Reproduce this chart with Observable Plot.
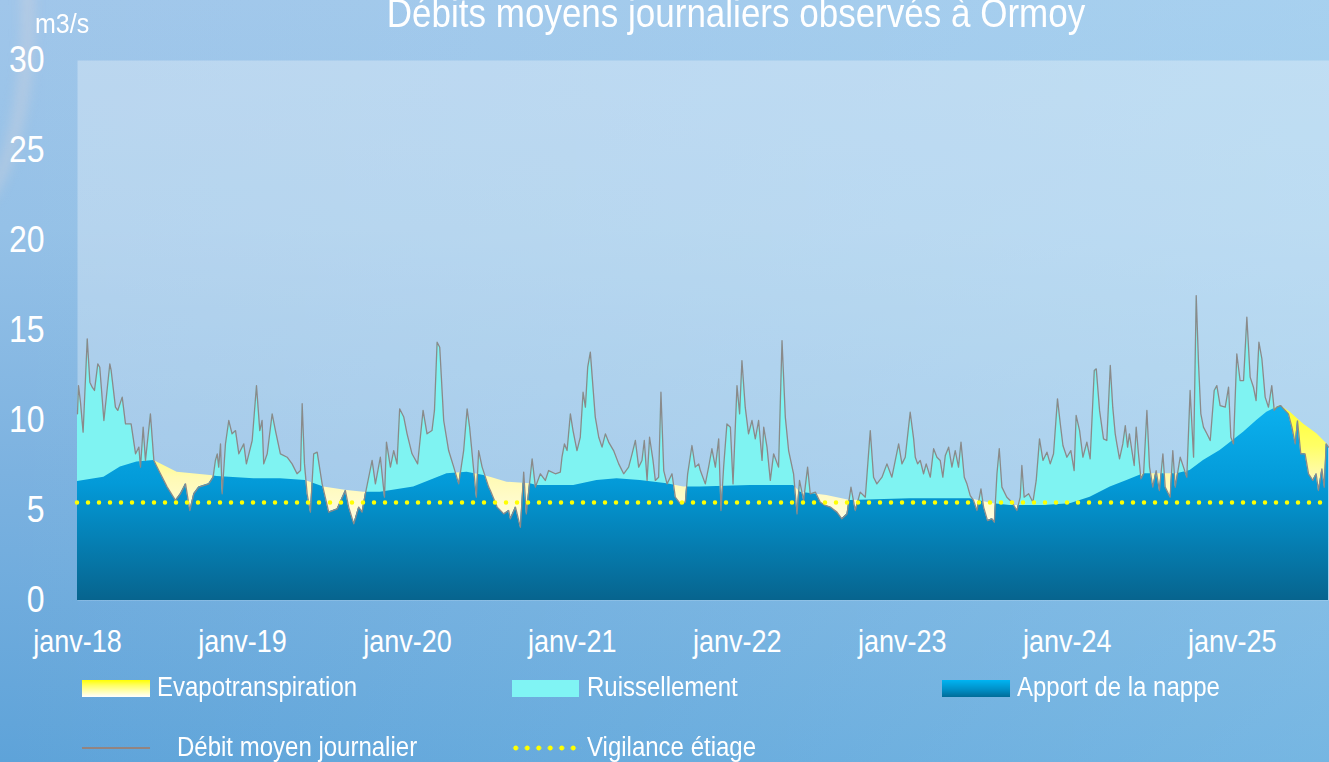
<!DOCTYPE html>
<html>
<head>
<meta charset="utf-8">
<script src="https://cdn.jsdelivr.net/npm/d3@7"></script>
<script src="https://cdn.jsdelivr.net/npm/@observablehq/plot@0.6"></script>
<style>
html,body{margin:0;padding:0;}
body{width:1329px;height:762px;overflow:hidden;position:relative;font-family:"Liberation Sans",Arial,sans-serif;
 background:
  linear-gradient(90deg, rgba(255,255,255,0) 0%, rgba(190,240,255,0.25) 100%),
  linear-gradient(180deg,#a0c6ea 0%,#95c1e7 30%,#7cb2e0 62%,#5ea3d9 100%);}
#chart{position:absolute;left:0;top:0;}
.t{position:absolute;color:#fff;line-height:1;white-space:nowrap;transform-origin:0 0;}
.sw{position:absolute;}
.edge{position:absolute;left:-122px;top:-190px;width:132px;height:390px;border-radius:50%;border:12px solid rgba(205,210,222,0.5);filter:blur(6px);}
</style>
</head>
<body>
<div class="edge"></div>
<div id="chart"></div>
<div class="t" style="left:0;width:1472px;text-align:center;top:-8px;font-size:35px;transform:scaleY(1.17);">Débits moyens journaliers observés à Ormoy</div>
<div class="t" style="left:35px;top:10px;font-size:25px;transform:scaleY(1.1);">m3/s</div>

<div class="sw" style="left:82px;top:680px;width:68px;height:17px;background:linear-gradient(180deg,#ffff00 0%,#ffff60 30%,#ffffff 100%);"></div>
<div class="t" style="left:157px;top:673px;font-size:24px;transform:scaleY(1.17);">Evapotranspiration</div>
<div class="sw" style="left:512px;top:680px;width:67px;height:17px;background:#80f4f4;"></div>
<div class="t" style="left:587px;top:673px;font-size:24px;transform:scaleY(1.17);">Ruissellement</div>
<div class="sw" style="left:942px;top:680px;width:68px;height:17px;background:linear-gradient(180deg,#00b4f2 0%,#0090c8 55%,#006c98 100%);"></div>
<div class="t" style="left:1017px;top:673px;font-size:24px;transform:scaleY(1.17);">Apport de la nappe</div>

<div class="sw" style="left:82px;top:747px;width:68px;height:1.5px;background:#938480;"></div>
<div class="t" style="left:177px;top:733px;font-size:24px;transform:scaleY(1.17);">Débit moyen journalier</div>
<div class="sw" style="left:510px;top:745px;width:72px;height:6px;background-image:radial-gradient(circle,#ffff00 2.2px,rgba(255,255,0,0) 2.8px);background-size:11.5px 6px;"></div>
<div class="t" style="left:587px;top:733px;font-size:24px;transform:scaleY(1.17);">Vigilance étiage</div>

<script>
// Débit moyen journalier (time in decimal years, value in m3/s)
const debitT = [
2018.000,2018.006,2018.018,2018.034,2018.059,2018.075,2018.089,2018.103,2018.123,2018.135,
2018.160,2018.196,2018.204,2018.230,2018.244,2018.271,2018.291,2018.325,2018.352,2018.372,
2018.382,2018.398,2018.412,2018.442,2018.463,2018.493,2018.544,2018.594,2018.624,2018.655,
2018.681,2018.705,2018.735,2018.796,2018.822,2018.836,2018.847,2018.856,2018.867,2018.877,
2018.897,2018.917,2018.937,2018.958,2018.978,2019.008,2019.024,2019.059,2019.085,2019.105,
2019.119,2019.129,2019.150,2019.180,2019.200,2019.230,
2019.271,2019.301,2019.331,2019.352,2019.362,2019.376,2019.392,2019.412,2019.432,2019.453,
2019.483,2019.523,2019.574,2019.624,2019.644,2019.675,2019.705,2019.725,2019.745,2019.786,
2019.806,2019.836,2019.861,2019.873,2019.897,2019.917,2019.937,2019.953,2019.978,2019.998,
2020.028,2020.062,2020.095,2020.119,2020.149,2020.164,2020.180,2020.196,2020.220,2020.250,
2020.281,2020.311,2020.341,2020.362,2020.377,2020.402,2020.418,2020.432,2020.453,2020.493,
2020.503,2020.544,2020.584,2020.614,2020.624,2020.655,2020.685,2020.705,2020.721,2020.756,
2020.776,2020.806,2020.836,2020.856,2020.897,2020.927,2020.937,2020.952,2020.968,2020.988,
2021.004,2021.028,2021.048,2021.065,2021.079,2021.093,2021.109,2021.125,2021.139,2021.160,
2021.180,2021.200,2021.220,2021.250,2021.281,2021.311,2021.341,2021.362,2021.382,2021.402,
2021.422,2021.436,2021.453,2021.468,2021.489,2021.503,2021.523,2021.537,2021.554,2021.574,
2021.604,2021.624,2021.655,2021.685,2021.699,2021.725,2021.745,2021.766,
2021.776,2021.806,2021.826,2021.846,2021.867,2021.887,2021.901,2021.917,2021.937,2021.958,
2021.974,2021.998,2022.014,2022.028,2022.048,2022.068,2022.089,2022.109,2022.129,2022.150,
2022.160,2022.180,2022.200,2022.220,2022.250,2022.271,2022.291,2022.311,2022.341,2022.362,
2022.377,2022.402,2022.426,2022.442,2022.473,2022.503,2022.533,2022.564,2022.604,2022.634,
2022.665,2022.689,2022.715,2022.745,2022.776,2022.806,2022.826,2022.846,2022.877,2022.907,
2022.937,2022.978,2022.998,2023.018,
2023.048,2023.069,2023.079,2023.093,2023.109,2023.129,2023.145,2023.170,2023.190,2023.210,
2023.230,2023.246,2023.261,2023.281,2023.301,2023.321,2023.341,2023.356,2023.376,2023.392,
2023.412,2023.432,2023.453,2023.477,2023.493,2023.517,2023.544,2023.558,2023.574,2023.588,
2023.604,2023.634,2023.665,2023.695,2023.715,2023.725,2023.739,2023.766,2023.792,2023.812,
2023.832,2023.853,2023.877,2023.897,2023.917,2023.941,2023.958,2023.974,2023.998,2024.022,
2024.042,2024.054,2024.075,2024.095,2024.119,2024.139,2024.164,2024.176,2024.196,2024.220,
2024.240,
2024.261,2024.276,2024.291,2024.301,2024.317,2024.337,2024.352,2024.366,2024.377,2024.392,
2024.406,2024.418,2024.432,2024.447,2024.463,2024.483,2024.499,2024.519,2024.539,2024.559,
2024.580,2024.594,2024.624,2024.640,2024.655,2024.685,2024.705,2024.725,2024.745,2024.766,
2024.782,2024.796,2024.810,2024.826,2024.847,2024.867,2024.891,2024.907,2024.927,2024.958,
2024.978,2024.992,2025.008,2025.028,2025.048,2025.069,2025.089,2025.109,2025.129,2025.145,
2025.162,2025.180,2025.200,2025.220,2025.240,2025.255,2025.271,2025.295,2025.311,2025.341,
2025.362,2025.382,2025.396,2025.416,2025.442,2025.463,2025.489,2025.509,2025.523,2025.544,
2025.558,2025.570,2025.584
];
const debitV = [
10.37,11.94,11.02,9.35,14.54,12.13,11.85,11.67,13.15,12.96,
10.0,13.15,12.78,10.74,10.56,11.3,9.81,9.81,8.15,8.52,
7.41,9.63,7.78,10.37,7.78,7.22,6.30,5.56,5.93,6.48,
5.0,5.93,6.30,6.48,6.85,7.78,8.15,7.41,8.70,5.93,
8.70,10.0,9.26,9.44,8.15,8.70,7.59,8.89,11.94,9.44,
10.0,7.59,8.15,10.37,9.44,8.15,
7.96,7.59,7.04,7.22,10.93,7.59,5.93,4.91,8.15,8.24,
6.48,4.91,5.09,6.11,5.19,4.26,5.19,4.91,5.93,7.78,
6.48,7.96,5.74,8.80,7.41,8.33,7.59,10.65,10.19,9.26,
8.15,7.59,10.56,9.26,9.44,10.56,14.35,14.07,10.0,8.33,
7.41,6.48,8.33,10.65,9.63,7.22,5.74,8.33,7.41,6.30,
6.11,5.19,4.81,5.0,4.54,5.19,4.07,7.13,4.81,7.87,
6.30,7.04,6.67,7.22,7.04,7.13,7.96,8.70,8.33,10.37,
9.44,8.33,9.07,11.57,10.74,12.96,13.80,11.85,10.19,9.07,
8.52,9.26,8.80,8.33,7.59,7.04,7.41,8.15,8.89,7.41,
7.78,8.89,6.67,9.07,7.78,6.67,6.85,11.57,7.22,6.48,
7.04,5.74,5.37,5.46,7.04,8.61,7.41,7.59,
7.22,6.48,7.41,8.43,7.41,8.98,5.0,7.41,9.81,9.63,
6.48,11.94,10.37,13.33,10.74,9.26,10.0,8.98,10.0,7.78,
9.63,8.52,6.67,8.15,7.41,14.44,10.19,8.33,7.04,4.81,
6.67,5.56,7.41,5.93,6.02,5.46,5.28,5.19,4.91,4.54,
4.81,6.30,5.0,6.02,5.74,9.44,6.85,6.48,6.85,7.59,
6.85,8.70,7.59,7.96,
10.46,8.98,7.96,7.59,7.78,7.04,7.59,6.85,8.43,7.96,
7.78,6.85,8.06,8.52,7.41,8.33,7.41,8.80,6.85,6.48,
5.83,5.56,5.0,6.20,5.19,4.44,4.54,4.35,7.04,8.43,
6.30,5.74,5.46,5.0,5.74,7.50,5.74,5.93,5.46,6.67,
8.98,7.78,8.24,7.59,8.15,11.20,9.81,8.61,7.96,8.33,
7.22,10.28,9.44,7.96,8.80,7.87,12.78,12.87,10.56,8.98,
8.89,
13.06,10.74,9.26,8.70,7.87,8.70,9.72,8.52,9.26,8.33,
7.50,9.63,8.15,6.76,7.04,10.56,7.41,6.30,7.22,6.11,
8.15,6.30,5.74,8.33,6.30,7.96,7.41,6.85,11.67,7.96,
16.94,13.15,10.37,9.63,9.26,8.89,11.67,11.94,10.83,10.74,
11.85,9.07,8.70,13.70,12.22,12.22,15.74,12.41,11.85,11.11,
14.35,13.43,11.30,10.74,11.94,10.56,10.74,10.83,10.65,10.37,
9.63,8.70,9.98,8.15,8.15,7.04,6.67,7.04,6.11,7.31,
6.30,8.70,8.52
];
// Apport de la nappe (base flow)
const nappeT = [
2018.000,2018.160,2018.260,2018.360,2018.463,2018.604,2018.806,2018.847,2019.069,2019.230,
2019.382,2019.493,2019.634,2019.735,2019.836,2020.038,2020.240,2020.362,2020.463,2020.503,
2020.604,2020.745,2020.786,2021.008,2021.149,2021.271,2021.412,2021.574,2021.675,2021.776,
2022.079,2022.341,2022.382,2022.543,2022.685,2023.048,2023.412,2023.553,2023.654,2023.856,
2024.018,2024.139,2024.261,2024.362,2024.463,2024.665,2024.745,2024.826,2024.927,2025.069,
2025.149,2025.210,2025.291,2025.352,2025.432,2025.513,2025.584
];
const nappeV = [
6.61,6.85,7.41,7.69,7.78,7.13,6.94,6.89,6.76,6.76,
6.67,6.30,6.11,6.02,6.02,6.30,7.04,7.13,6.94,6.85,
6.57,6.48,6.39,6.39,6.67,6.76,6.67,6.48,6.30,6.30,
6.39,6.39,6.02,5.83,5.56,5.65,5.65,5.37,5.28,5.28,
5.37,5.74,6.30,6.67,7.04,7.04,7.22,7.78,8.33,9.35,
10.0,10.46,10.83,10.46,9.81,9.26,8.61
];
const vigilance = 5.45;
const yTicks = [0, 5, 10, 15, 20, 25, 30];
const yearTicks = [2018, 2019, 2020, 2021, 2022, 2023, 2024, 2025];
const tickLabels = ["janv-18","janv-19","janv-20","janv-21","janv-22","janv-23","janv-24","janv-25"];

const debit = debitT.map((t, i) => ({t, v: debitV[i]}));
const nappe = nappeT.map((t, i) => ({t, v: nappeV[i]}));

const chart = Plot.plot({
  width: 1329,
  height: 665,
  marginLeft: 77,
  marginRight: 0,
  marginTop: 60,
  marginBottom: 65,
  style: {background: "transparent", color: "white", fontFamily: "Liberation Sans, Arial, sans-serif", overflow: "visible"},
  x: {domain: [2018, 2025.59]},
  y: {domain: [0, 30]},
  marks: [
    Plot.frame({fill: "white", fillOpacity: 0.3, stroke: "none"}),
    Plot.areaY(debit, {x: "t", y: "v", fill: "#7ff3f2", ariaDescription: "ruissellement"}),
    Plot.areaY(nappe, {x: "t", y: "v", fill: "url(#gradYellow)", ariaDescription: "evapotranspiration"}),
    Plot.areaY(nappe, {x: "t", y: "v", fill: "url(#gradBlue)", ariaDescription: "nappe"}),
    Plot.lineY(debit, {x: "t", y: "v", stroke: "#8a8a8a", strokeWidth: 1.3}),
    Plot.ruleY([vigilance], {stroke: "#ffff00", strokeWidth: 4.5, strokeDasharray: "0,11", strokeLinecap: "round"}),
    Plot.axisY({ticks: yTicks, tickSize: 0, tickPadding: 33, fontSize: 32, label: null}),
    Plot.axisX({ticks: yearTicks, tickSize: 0, tickPadding: 29, fontSize: 27, label: null,
      tickFormat: d => tickLabels[yearTicks.indexOf(d)]})
  ]
});

const svg = chart;
const ns = "http://www.w3.org/2000/svg";
const ys = chart.scale("y");
const Y = v => ys.apply(v);
const areas = svg.querySelectorAll('g[aria-label="area"]');
const gRuis = svg.querySelector('g[aria-description="ruissellement"]') || areas[0];
const gEvap = svg.querySelector('g[aria-description="evapotranspiration"]') || areas[1];
const gNappe = svg.querySelector('g[aria-description="nappe"]') || areas[2];
const d = gRuis.querySelector("path").getAttribute("d");

const defs = document.createElementNS(ns, "defs");
defs.innerHTML = `
<linearGradient id="gradBlue" gradientUnits="userSpaceOnUse" x1="0" x2="0" y1="${Y(11)}" y2="${Y(0)}">
  <stop offset="0" stop-color="#0cb2f0"/>
  <stop offset="${(11 - 6.5) / 11}" stop-color="#039ad8"/>
  <stop offset="1" stop-color="#07648e"/>
</linearGradient>
<linearGradient id="gradYellow" gradientUnits="userSpaceOnUse" x1="0" x2="0" y1="${Y(11)}" y2="${Y(4)}">
  <stop offset="0" stop-color="#ffff2a"/>
  <stop offset="0.35" stop-color="#ffff66"/>
  <stop offset="0.6" stop-color="#fffab4"/>
  <stop offset="1" stop-color="#fffde8"/>
</linearGradient>
<clipPath id="clipUnder"><path d="${d}"/></clipPath>
<clipPath id="clipAbove"><path clip-rule="evenodd" d="M-5000,-5000H5000V5000H-5000Z ${d}"/></clipPath>`;
svg.insertBefore(defs, svg.firstChild);
gNappe.setAttribute("clip-path", "url(#clipUnder)");
gEvap.setAttribute("clip-path", "url(#clipAbove)");

// vertically stretched lettering as in the original
svg.querySelectorAll("text").forEach(t => {
  const tr = t.getAttribute("transform") || "";
  const xa = t.getAttribute("x"), ya = t.getAttribute("y");
  const num = s => s != null && /^-?[\d.]+$/.test(s);
  const x = num(xa) ? +xa : 0, y = num(ya) ? +ya : 0;
  if (num(xa)) t.removeAttribute("x");
  if (num(ya)) t.removeAttribute("y");
  t.setAttribute("transform", `${tr} translate(${x},${y}) scale(1,1.17)`);
});

document.getElementById("chart").appendChild(svg);
</script>
</body>
</html>
